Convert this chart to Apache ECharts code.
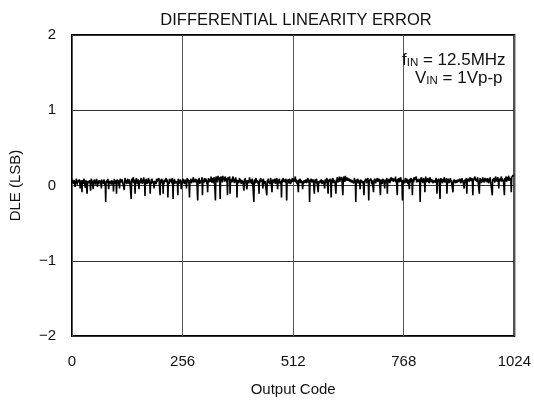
<!DOCTYPE html>
<html>
<head>
<meta charset="utf-8">
<script src="https://cdn.jsdelivr.net/npm/echarts@6/dist/echarts.min.js"></script>
<style>html,body{margin:0;padding:0;background:#fff;}#c{width:534px;height:402px;}</style>
</head>
<body>
<div id="c"></div>
<script>
// Axis definitions
var xTicks = [0, 256, 512, 768, 1024];
var yTicks = [-2, -1, 0, 1, 2];
var titleText = 'DIFFERENTIAL LINEARITY ERROR';
var xName = 'Output Code';
var yName = 'DLE (LSB)';
// DLE per output code 0..1023 (LSB)
var dle = [
.05,.08,.03,.06,.02,.07,.04,-.02, .06,.03,.09,.05,.01,.07,.04,.06, .02,.08,.05,-.04,.06,.03,.07,-.09, .04,.07,.02,.06,.09,.03,.05,-.03,
.07,.04,.02,-.11,.06,.08,.03,.05, .01,.07,.04,-.07,.05,.09,.02,.06, .04,-.05,.07,.03,.08,.05,.01,.06, .03,.09,.04,-.02,.06,.02,.07,.05,
.04,.07,.01,.06,-.04,.08,.03,.05, .06,.02,.08,.04,.01,.05,-.22,.06, .03,.07,.04,.09,.02,-.05,.06,.04, .08,.03,.06,.01,.07,.05,.02,.06,
-.08,.04,.09,.03,.06,.02,.07,-.11, .05,.08,.03,.06,.01,.07,-.04,.05, .09,.04,.06,.02,.08,.05,.03,.07, .04,-.06,.06,.10,.03,.07,.05,.02,
.06,.09,.04,.07,.02,.08,.05,.03, .07,-.18,.05,.09,.04,.06,.11,.03, .05,.08,-.11,.06,.03,.10,.05,.07, .02,.08,.04,-.05,.07,.09,.03,.06,
.10,.04,.07,.02,.08,.05,.11,.03, .06,-.14,.08,.04,.09,.05,.02,.07, .04,.10,.06,.03,.08,-.11,.05,.07, .02,.09,.06,.04,.08,.03,-.04,.06,
.08,.04,.07,.02,.09,.05,.06,.03, .07,.10,.04,.06,-.13,.08,.03,.05, .09,.04,.07,-.11,.06,.02,.08,.05, .03,.07,.10,.04,.06,.08,-.16,.05,
.07,.02,.09,.05,.04,.08,.06,.03, .10,.05,-.18,.07,.04,.09,.02,.06, .08,.04,.07,.03,.06,-.13,.09,.05, .02,.07,.04,.08,.05,-.05,.06,.03,
.06,.09,.04,.07,.02,.05,.08,.03, .06,-.04,.07,.10,.04,.08,.05,.02, -.16,.07,.04,.09,.06,.03,.08,.05, .07,.11,.04,.06,.02,.08,.05,.09,
.03,.07,.05,-.20,.08,.04,.10,.06, .02,.07,.09,.04,.06,.11,-.13,.05, .08,.03,.07,.10,.05,.04,.09,.06, .02,.07,-.09,.05,.10,.04,.08,.06,
.09,.05,.12,.07,.04,.10,.06,.08, .03,.11,.07,.05,-.20,.09,.12,.06, .10,.04,.13,.08,.06,.11,.05,-.18, .09,.12,.06,.10,.04,.13,.08,.07,
.11,.05,.09,.12,.06,.10,.04,.08, -.13,.11,.07,.09,.05,.12,-.11,.08, .06,.10,.04,.09,.07,.12,.05,.08, .03,.09,.06,.11,.04,.08,-.16,.07,
.05,.09,.03,.07,.10,.04,.08,.06, .02,.07,.05,.09,.04,.06,-.07,.08, .03,.10,.06,.04,.08,-.05,.07,.05, .09,.03,.06,.11,.04,.08,.05,.07,
.02,.09,.06,.04,.07,-.22,.05,.08, .03,.06,.10,.04,.07,.05,.09,.02, .06,-.11,.08,.04,.07,.10,.05,.03, .08,.06,-.04,.09,.05,.07,.02,.06,
.04,.08,.05,-.13,.07,.03,.09,.06, .04,.08,.02,.06,.10,.05,.07,-.09, .05,.08,.03,.07,.04,.09,.06,.02, .07,.05,.10,.04,-.05,.08,.06,.03,
.09,.05,.07,.02,.06,-.16,.08,.04, .07,.10,.05,.03,.08,.06,.04,.09, .05,-.20,.07,.04,.08,.06,.03,.09, .05,.07,.02,.08,.04,.06,.10,.05,
.07,.03,.09,.05,.06,.12,.04,.08, .06,.02,.07,.05,-.09,.08,.04,.06, .09,.03,.07,.05,.08,.04,-.05,.06, .02,.07,.05,.09,.04,.06,.08,.03,
.07,.05,.10,.04,.06,.08,-.22,.05, .03,.07,.09,.04,.06,.02,.08,.05, .07,-.11,.04,.08,.06,.03,.09,.05, .07,.04,-.09,.06,.08,.03,.05,.07,
.04,.08,.06,.02,.07,.05,.09,.04, .06,-.04,.08,.03,.07,.05,.10,.04, .06,-.11,.08,.05,.03,.07,.09,.04, -.16,.06,.08,.05,.10,.03,.07,.05,
.09,.04,.06,-.11,.08,.05,.11,.07, .04,.09,.06,.12,.05,.08,.10,.06, .11,.07,.09,-.13,.06,.12,.08,.10, .05,.13,.07,.09,.11,.06,.10,.08,
.12,.06,.09,.11,.05,.08,.10,.04, .07,.09,.05,.08,.03,.06,.10,.04, .07,-.22,.05,.08,.03,.06,.09,.04, .07,.02,.06,-.05,.08,.04,.07,.05,
.09,.03,.06,.08,-.13,.05,.07,.04, .09,.06,.03,.07,.05,.10,.04,-.20, .06,.08,.04,.07,.09,.05,.02,.07, .05,.08,-.09,.06,.04,.09,.07,.03,
.06,.08,.04,.10,.05,.07,.03,.09, .06,.04,-.13,.08,.05,.07,.02,.06, .09,.04,.07,.05,-.04,.08,.06,.03, .07,.10,-.11,.05,.08,.04,.06,.09,
.03,.07,.05,.11,.06,.04,.08,.10, .05,.07,.03,.09,.06,.12,.04,.08, .06,-.13,.09,.05,.07,.10,.04,.08, .06,.11,.05,.08,.03,-.20,.07,.09,
.05,.08,.03,.07,.10,.04,.06,.09, .05,.07,.02,.08,.06,-.05,.09,.04, .07,.10,.05,.08,-.13,.06,.09,.04, .11,.07,.05,.09,.06,.12,.04,.08,
.06,.10,.05,.07,.09,.04,-.22,.08, .06,.11,.05,.08,.03,.07,.10,.05, .08,-.09,.06,.12,.04,.09,.07,.05, .10,.06,.08,.03,.07,.11,.05,.09,
.04,.08,.06,.10,.03,.07,.09,.05, .08,.04,.07,.10,.06,-.11,.08,.05, .03,.09,.06,.07,-.18,.05,.10,.04, .08,.06,.03,.09,.05,.07,.11,.04,
.06,.08,.05,.10,-.11,.07,.04,.09, .06,.03,.08,.05,.10,.04,.07,.06, .09,.05,-.09,.07,.04,.08,.06,.10, .03,.07,.05,.09,.04,.06,.08,.05,
.07,.04,.09,.06,.03,.08,.05,.10, .04,.07,.06,.09,-.04,.05,.08,.03, .07,.10,-.11,.06,.08,.04,.09,.05, .07,.03,.11,.06,.08,.05,.10,.04,
-.13,.07,.09,.05,.08,.12,.06,.04, .09,.07,.05,.11,.06,.08,.04,-.11, .07,.10,.05,.08,.03,.09,.06,.11, .05,.08,.04,.07,.10,.06,.09,.05,
.08,.04,.10,.06,.07,.03,.09,.05, .11,.06,.08,.04,.07,-.13,.09,.06, .05,.10,.07,.04,.08,.12,.06,.09, .05,.08,.11,.06,-.04,.09,.07,.10,
.06,.08,.12,.05,.09,.07,.11,.06, .08,-.13,.10,.06,.09,.12,.05,.08, .11,.07,.09,.13,.06,.10,.08,.12, .07,-.09,.11,.09,.13,.10,.14,.12
];
var fin = '12.5MHz';
var vin = '1Vp-p';

var points = dle.map(function (v, i) { return [i, v]; });
var FONT = '"Liberation Sans", Arial, sans-serif';
function fmtNum(v) { return String(v).replace('-', '\u2212'); }

var chart = echarts.init(document.getElementById('c'), null, {renderer: 'canvas'});
chart.setOption({
  animation: false,
  backgroundColor: '#fff',
  title: {
    text: titleText, left: 291, top: 7, textAlign: 'center',
    textStyle: {fontFamily: FONT, fontSize: 16.5, fontWeight: 'normal', color: '#111'}
  },
  grid: {left: 68, right: 19, top: 35, bottom: 65, show: true, borderColor: '#000', borderWidth: 2, backgroundColor: 'transparent'},
  xAxis: {
    type: 'value', min: xTicks[0], max: xTicks[xTicks.length - 1], interval: xTicks[1] - xTicks[0],
    name: xName, nameLocation: 'middle', nameGap: 46,
    nameTextStyle: {fontFamily: FONT, fontSize: 15, color: '#111'},
    axisLine: {show: false}, axisTick: {show: false},
    axisLabel: {fontFamily: FONT, fontSize: 15, color: '#111', margin: 18, formatter: fmtNum},
    splitLine: {show: true, lineStyle: {color: '#555', width: 1}}
  },
  yAxis: {
    type: 'value', min: yTicks[0], max: yTicks[yTicks.length - 1], interval: yTicks[1] - yTicks[0],
    name: yName, nameLocation: 'middle', nameGap: 49, nameRotate: 90,
    nameTextStyle: {fontFamily: FONT, fontSize: 15, color: '#111'},
    axisLine: {show: false}, axisTick: {show: false},
    axisLabel: {fontFamily: FONT, fontSize: 15, color: '#111', margin: 16, formatter: fmtNum},
    splitLine: {show: true, lineStyle: {color: '#333', width: 1}}
  },
  series: [{
    type: 'line', data: points, showSymbol: false, symbol: 'none',
    lineStyle: {color: '#000', width: 1.6}, z: 3
  }],
  graphic: [
    {type: 'text', left: 402, top: 52, z: 10, style: {
      text: '{n|f}{s|IN}{n| = ' + fin + '}', fill: '#111',
      rich: {n: {fontFamily: FONT, fontSize: 17, lineHeight: 18, verticalAlign: 'bottom'},
             s: {fontFamily: FONT, fontSize: 11.5, lineHeight: 9, verticalAlign: 'bottom'}}
    }},
    {type: 'text', left: 415, top: 70, z: 10, style: {
      text: '{n|V}{s|IN}{n| = ' + vin + '}', fill: '#111',
      rich: {n: {fontFamily: FONT, fontSize: 17, lineHeight: 18, verticalAlign: 'bottom'},
             s: {fontFamily: FONT, fontSize: 11.5, lineHeight: 9, verticalAlign: 'bottom'}}
    }}
  ]
});
</script>
</body>
</html>
